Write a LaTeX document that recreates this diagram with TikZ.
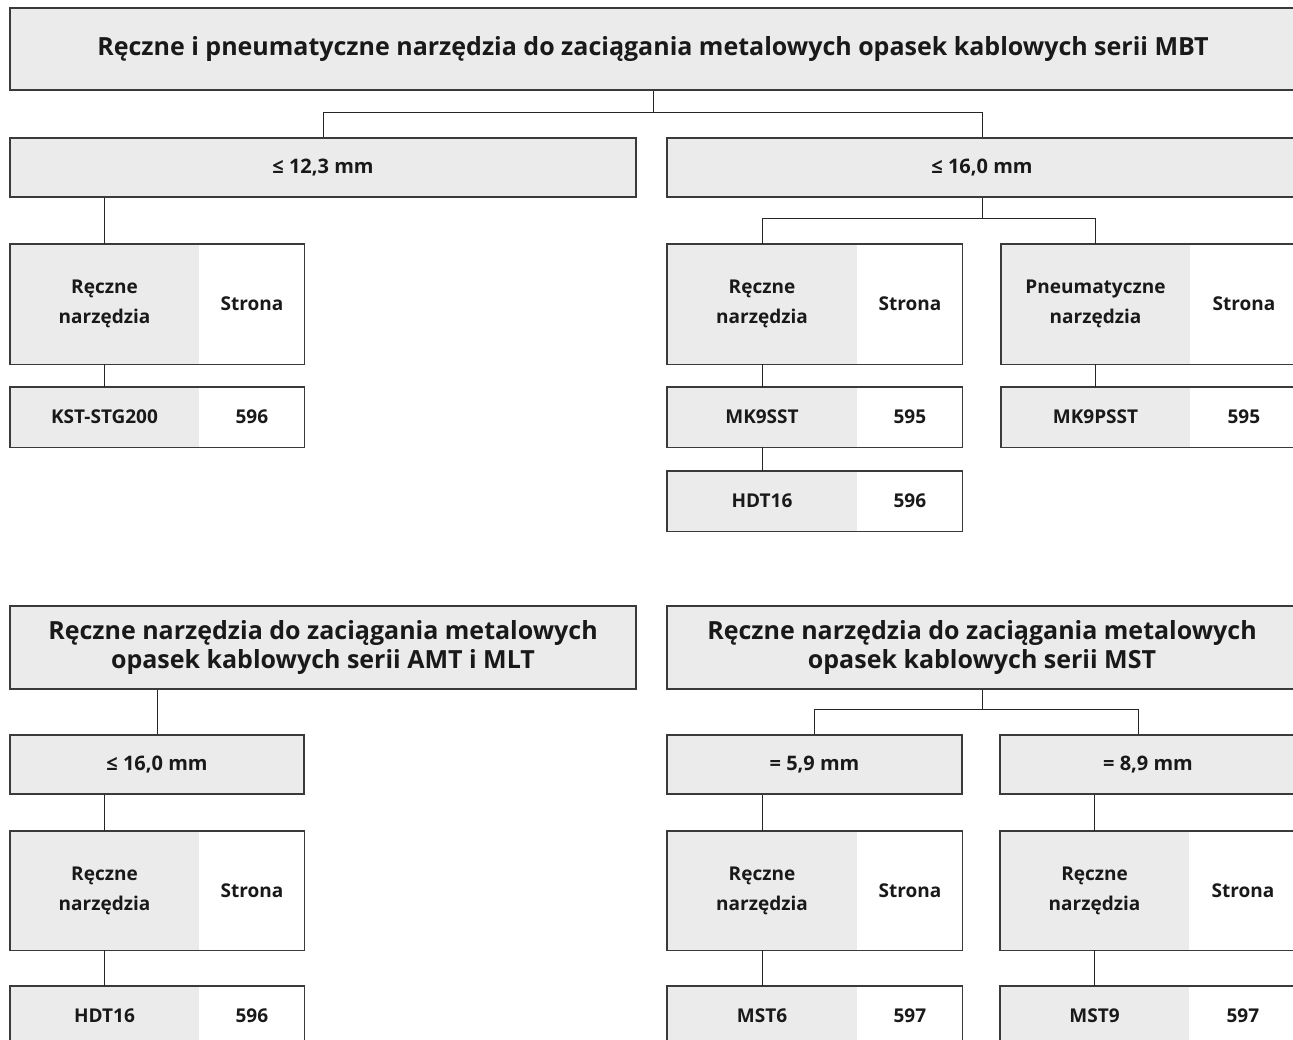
\documentclass[tikz,border=0pt]{standalone}
\usepackage{fontspec}
\setmainfont{Open Sans}
\usepackage{tikz}
\usetikzlibrary{positioning}
\definecolor{boxgray}{HTML}{EBEBEB}
\definecolor{boxline}{HTML}{3A3A3A}
\tikzstyle{head}=[rectangle,draw=boxline,fill=boxgray,line width=1.4pt,inner sep=0pt,align=center,text=black!90,font=\fontsize{25}{28}\selectfont\bfseries]
\tikzstyle{subhead}=[head,font=\fontsize{25}{29}\selectfont\bfseries]
\tikzstyle{sizebox}=[head,minimum height=59pt,font=\fontsize{20}{22}\selectfont\bfseries]
\tikzstyle{tool}=[rectangle,fill=boxgray,inner sep=0pt,align=center,text=black!90,font=\fontsize{19}{30}\selectfont\bfseries]
\tikzstyle{pagecell}=[tool,fill=white]
\tikzstyle{outline}=[draw=boxline,line width=1.4pt]
\tikzstyle{wire}=[draw=black!85,line width=1pt]

\begin{document}
\begin{tikzpicture}[x=1pt,y=-1pt]
    \useasboundingbox (0,0) rectangle (1293,1039);
    \clip (0,0) rectangle (1293,1039);

    % MBT
    \node[head, minimum width=1286pt, minimum height=82pt] (T1) at (653,49)
        {Ręczne i pneumatyczne narzędzia do zaciągania metalowych opasek kablowych serii MBT};
    \node[sizebox, minimum width=626pt] (B1) at (323,167.5) {≤ 12,3 mm};
    \node[sizebox, minimum width=630pt] (B2) at (982,167.5) {≤ 16,0 mm};

    \node[tool, minimum width=189pt, minimum height=120pt] (H1) at (104.5,304) {Ręczne\\narzędzia};
    \node[pagecell, minimum width=105pt, minimum height=120pt] (H1s) [right=0pt of H1] {Strona};
    \node[tool, minimum width=189pt, minimum height=60pt] (K1) at (104.5,417) {KST-STG200};
    \node[pagecell, minimum width=105pt, minimum height=60pt] (K1s) [right=0pt of K1] {596};

    \node[tool, minimum width=190pt, minimum height=120pt] (H2) at (762,304) {Ręczne\\narzędzia};
    \node[pagecell, minimum width=105pt, minimum height=120pt] (H2s) [right=0pt of H2] {Strona};
    \node[tool, minimum width=190pt, minimum height=60pt] (M1) at (762,417) {MK9SST};
    \node[pagecell, minimum width=105pt, minimum height=60pt] (M1s) [right=0pt of M1] {595};
    \node[tool, minimum width=190pt, minimum height=60pt] (M2) at (762,501) {HDT16};
    \node[pagecell, minimum width=105pt, minimum height=60pt] (M2s) [right=0pt of M2] {596};

    \node[tool, minimum width=189pt, minimum height=120pt] (H3) at (1095.5,304) {Pneumatyczne\\narzędzia};
    \node[pagecell, minimum width=107pt, minimum height=120pt] (H3s) [right=0pt of H3] {Strona};
    \node[tool, minimum width=189pt, minimum height=60pt] (M3) at (1095.5,417) {MK9PSST};
    \node[pagecell, minimum width=107pt, minimum height=60pt] (M3s) [right=0pt of M3] {595};

    % AMT i MLT, MST
    \node[subhead, minimum width=626pt, minimum height=83pt] (T2) at (323,647.5)
        {Ręczne narzędzia do zaciągania metalowych\\opasek kablowych serii AMT i MLT};
    \node[subhead, minimum width=630pt, minimum height=83pt] (T3) at (982,647.5)
        {Ręczne narzędzia do zaciągania metalowych\\opasek kablowych serii MST};
    \node[sizebox, minimum width=294pt] (C1) at (157,764.5) {≤ 16,0 mm};
    \node[sizebox, minimum width=295pt] (C2) at (814.5,764.5) {= 5,9 mm};
    \node[sizebox, minimum width=296pt] (C3) at (1148,764.5) {= 8,9 mm};

    \node[tool, minimum width=189pt, minimum height=119pt] (H4) at (104.5,890.5) {Ręczne\\narzędzia};
    \node[pagecell, minimum width=105pt, minimum height=119pt] (H4s) [right=0pt of H4] {Strona};
    \node[tool, minimum width=189pt, minimum height=60pt] (K2) at (104.5,1016) {HDT16};
    \node[pagecell, minimum width=105pt, minimum height=60pt] (K2s) [right=0pt of K2] {596};

    \node[tool, minimum width=190pt, minimum height=119pt] (H5) at (762,890.5) {Ręczne\\narzędzia};
    \node[pagecell, minimum width=105pt, minimum height=119pt] (H5s) [right=0pt of H5] {Strona};
    \node[tool, minimum width=190pt, minimum height=60pt] (M4) at (762,1016) {MST6};
    \node[pagecell, minimum width=105pt, minimum height=60pt] (M4s) [right=0pt of M4] {597};

    \node[tool, minimum width=189pt, minimum height=119pt] (H6) at (1094.5,890.5) {Ręczne\\narzędzia};
    \node[pagecell, minimum width=107pt, minimum height=119pt] (H6s) [right=0pt of H6] {Strona};
    \node[tool, minimum width=189pt, minimum height=60pt] (M5) at (1094.5,1016) {MST9};
    \node[pagecell, minimum width=107pt, minimum height=60pt] (M5s) [right=0pt of M5] {597};

    % frames round the split boxes
    \foreach \g/\w in {H1/H1s,K1/K1s,H2/H2s,M1/M1s,M2/M2s,H3/H3s,M3/M3s,
                       H4/H4s,K2/K2s,H5/H5s,M4/M4s,H6/H6s,M5/M5s}
        \draw[outline] (\g.north west) rectangle (\w.south east);

    % connectors
    \draw[wire] (T1.south) -- ++(0,22) coordinate (j1)
        (B1.north) |- (j1) -| (B2.north);
    \draw[wire] (B2.south) -- ++(0,21) coordinate (j2)
        (H2.north) |- (j2) -| (H3.north);
    \draw[wire] (H1.north) -- (H1.north |- B1.south);
    \path[wire] (H1) edge (K1)
                (H2) edge (M1)
                (M1) edge (M2)
                (H3) edge (M3);

    \draw[wire] (C1.north) -- (C1.north |- T2.south);
    \draw[wire] (T3.south) -- ++(0,20) coordinate (j3)
        (C2.north) |- (j3) -| ([xshift=-10pt]C3.north);
    \draw[wire] (H4.north) -- (H4.north |- C1.south);
    \draw[wire] (H5.north) -- (H5.north |- C2.south);
    \draw[wire] (H6.north) -- (H6.north |- C3.south);
    \path[wire] (H4) edge (K2)
                (H5) edge (M4)
                (H6) edge (M5);
\end{tikzpicture}
\end{document}
